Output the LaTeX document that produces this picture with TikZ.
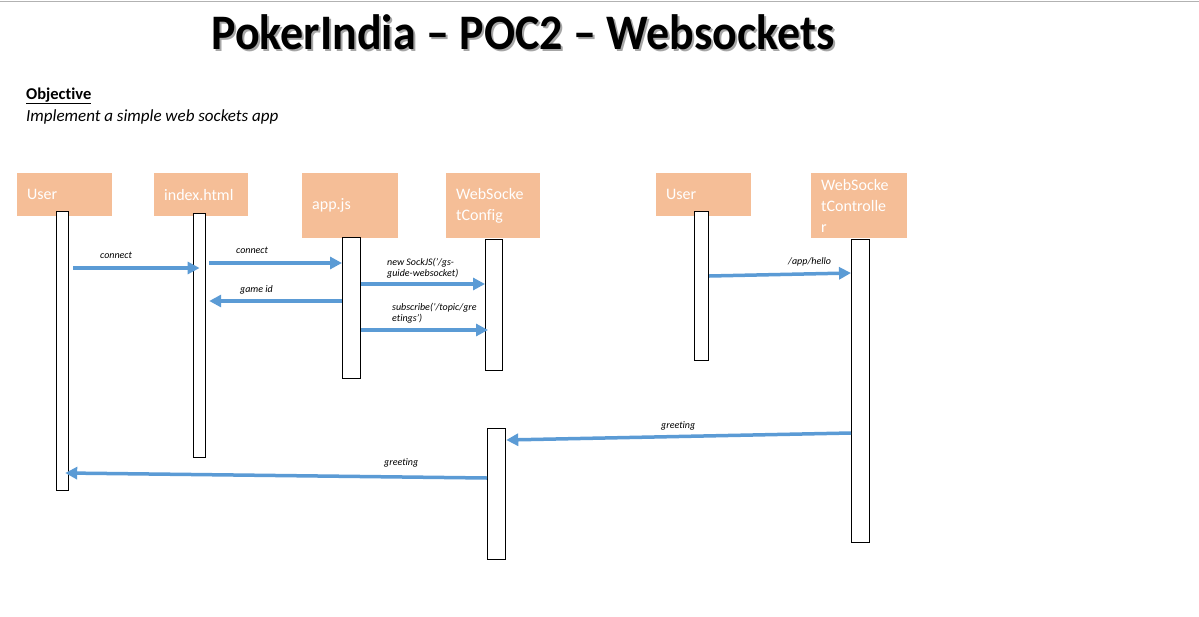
\documentclass[tikz,border=0pt]{standalone}
\usepackage{fontspec}
\setmainfont[Ligatures=NoCommon]{Carlito}
\usetikzlibrary{arrows.meta}
\definecolor{peach}{HTML}{F5BE97}
\definecolor{msgblue}{HTML}{5B9BD5}
\tikzset{
  hdr/.style={fill=peach, anchor=north west, inner xsep=10pt, inner ysep=0pt, text=white, font=\fontsize{16}{21}\selectfont, align=left},
  life/.style={draw=black, fill=white, line width=1.2pt, anchor=north west, inner sep=0pt},
  msg/.style={draw=msgblue, line width=3.5pt, -{Triangle[length=12pt,width=12pt]}},
  lbl/.style={font=\fontsize{10}{11.5}\selectfont\itshape, align=left, inner sep=0pt, anchor=west}
}
\begin{document}
\begin{tikzpicture}[x=1pt,y=-1pt]
\useasboundingbox (0,0) rectangle (1199,616);
\fill[white] (0,0) rectangle (1199,616);
\draw[gray!60, line width=1.5pt] (0,1.5) -- (1199,1.5);
% title
\node[font=\fontsize{46}{52}\selectfont\bfseries, text=gray!70, yscale=1.08] at (525,34) {PokerIndia – POC2 – Websockets};
\node (title) [font=\fontsize{46}{52}\selectfont\bfseries, yscale=1.08] at (523,32) {PokerIndia – POC2 – Websockets};
\node (obj) [font=\fontsize{16.5}{18}\selectfont\bfseries, anchor=west, inner sep=0pt] at (26,96) {\underline{Objective}};
\node (impl) [font=\fontsize{17}{18}\selectfont\itshape, anchor=west, inner sep=0pt] at (26,117) {Implement a simple web sockets app};
% headers
\node (h1) [hdr, text width=75pt, minimum height=43pt] at (17,173) {User};
\node (h2) [hdr, text width=74pt, minimum height=43pt] at (154,173) {index.html};
\node (h3) [hdr, text width=76pt, minimum height=65pt] at (302,173) {app.js};
\node (h4) [hdr, text width=74pt, minimum height=65pt] at (446,173) {WebSocke\\tConfig};
\node (h5) [hdr, text width=75pt, minimum height=43pt] at (656,173) {User};
\node (h6) [hdr, text width=76pt, minimum height=65pt] at (811,173) {WebSocke\\tControlle\\r};
% lifelines
\node (l1) [life, minimum width=12pt, minimum height=279pt] at (56,211) {};
\node (l2) [life, minimum width=12pt, minimum height=244pt] at (193,213) {};
\node (l3) [life, minimum width=18pt, minimum height=141pt] at (342,237) {};
\node (l4) [life, minimum width=17pt, minimum height=131pt] at (485,239) {};
\node (l5) [life, minimum width=14pt, minimum height=149pt] at (694,211) {};
\node (l6) [life, minimum width=18pt, minimum height=303pt] at (851,239) {};
\node (l7) [life, minimum width=18pt, minimum height=131pt] at (487,428) {};
% messages
\draw[msg] (l1.east |- 0,268) ++(4,0) -- (l2.center |- 0,268);
\node (m1) [lbl] at (100,255) {connect};
\draw[msg] (l2.east |- 0,263) ++(3,0) -- (l3.west |- 0,263);
\node (m2) [lbl] at (236,250) {connect};
\draw[msg] (l3.east |- 0,284) -- (l4.west |- 0,284);
\node (m3) [lbl] at (387,268) {new SockJS('/gs-\\guide-websocket)};
\draw[msg] (l3.west |- 0,301) -- ([xshift=3pt]l2.east |- 0,301);
\node (m4) [lbl] at (240,290) {game id};
\draw[msg] (l3.east |- 0,330) -- ([xshift=3pt]l4.west |- 0,330);
\node (m5) [lbl] at (392,313) {subscribe('/topic/gre\\etings')};
\draw[msg] (l5.east |- 0,276) -- (l6.west |- 0,273);
\node (m6) [lbl] at (788,262) {/app/hello};
\draw[msg] (l6.west |- 0,433) -- (l7.east |- 0,440);
\node (m7) [lbl] at (661,426) {greeting};
\draw[msg] (l7.west |- 0,478) -- ([xshift=-4pt]l1.east |- 0,473);
\node (m8) [lbl] at (384,463) {greeting};
\end{tikzpicture}
\end{document}
